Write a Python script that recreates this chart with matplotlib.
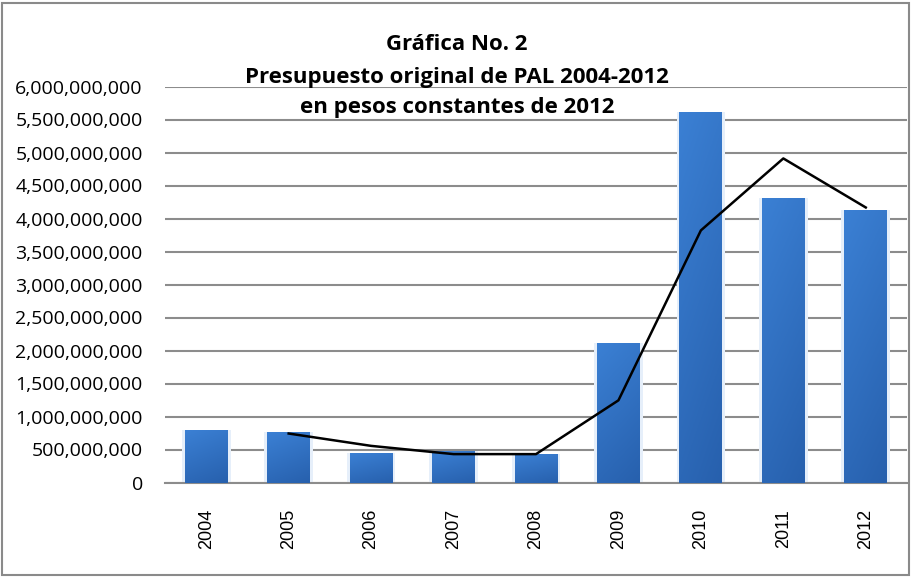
import matplotlib
matplotlib.use("Agg")
import matplotlib.pyplot as plt
import numpy as np
from matplotlib.patches import Rectangle
from matplotlib.ticker import FuncFormatter

years = ["2004", "2005", "2006", "2007", "2008", "2009", "2010", "2011", "2012"]
budget = [803e6, 758e6, 440e6, 479e6, 430e6, 2110e6, 5615e6, 4310e6, 4136e6]
trend_years = ["2005", "2006", "2007", "2008", "2009", "2010", "2011", "2012"]
trend = [742e6, 555e6, 430e6, 430e6, 1245e6, 3820e6, 4910e6, 4167e6]
yticks = np.arange(0, 6.0e9 + 1, 0.5e9)
title_lines = ["Gráfica No. 2", "Presupuesto original de PAL 2004-2012", "en pesos constantes de 2012"]

fig = plt.figure(figsize=(9.12, 5.77), dpi=100)
fig.patch.set_facecolor("white")
ax = fig.add_axes([165 / 912, 1 - 482.5 / 577, (907 - 165) / 912, (482.5 - 86.5) / 577])

x = np.arange(len(years))
bars = ax.bar(x, budget, width=0.52, color="none", edgecolor="none", zorder=3)

# gradient fill inside each bar (lighter top-left, darker bottom)
gy = np.linspace(0, 1, 128).reshape(-1, 1)
gx = np.linspace(0, 1, 64).reshape(1, -1)
grad = 0.75 * gy + 0.25 * (1 - gx)
cmap = matplotlib.colors.LinearSegmentedColormap.from_list("b", ["#2760ad", "#3b80d4"])
for b in bars:
    x0, w, h = b.get_x(), b.get_width(), b.get_height()
    ax.add_patch(Rectangle((x0 - 0.035, 0), w + 0.07, h, facecolor="#e6effa",
                           edgecolor="none", zorder=2.5))
    im = ax.imshow(grad, extent=(x0, x0 + w, 0, h), origin="lower", cmap=cmap,
                   aspect="auto", zorder=3, vmin=0, vmax=1)
    im.set_clip_path(b)

tx = [years.index(t) for t in trend_years]
ax.plot(tx, trend, color="black", lw=1.8, zorder=4)

ax.set_xlim(-0.5, len(years) - 0.5)
ax.set_ylim(0, 6.0e9)
ax.set_yticks(yticks)
ax.yaxis.set_major_formatter(FuncFormatter(lambda v, p: f"{int(round(v)):,}"))
ax.set_xticks(x)
ax.set_xticklabels(years, rotation=90, family="Liberation Sans", fontsize=13)
for lbl in ax.get_yticklabels():
    lbl.set_family("Open Sans")
    lbl.set_fontsize(14)
ax.tick_params(axis="both", length=0)
ax.tick_params(axis="y", pad=16)
ax.tick_params(axis="x", pad=19)
ax.grid(axis="y", color="#8c8c8c", lw=1.5, zorder=1)
ax.set_axisbelow(True)
for s in ["left", "right", "top"]:
    ax.spines[s].set_visible(False)
ax.spines["bottom"].set_color("#8c8c8c")
ax.spines["bottom"].set_linewidth(1.5)

ys = [45, 77, 108]
for t, yy in zip(title_lines, ys):
    fig.text(457 / 912, 1 - yy / 577, t, ha="center", va="center",
             family="Open Sans", fontweight="bold", fontsize=16)

fig.add_artist(Rectangle((2.5 / 912, 2.5 / 577), 907 / 912, 572 / 577,
                         transform=fig.transFigure, fill=False,
                         edgecolor="#8a8a8a", lw=1.5))

fig.savefig("out.png", dpi=100)
